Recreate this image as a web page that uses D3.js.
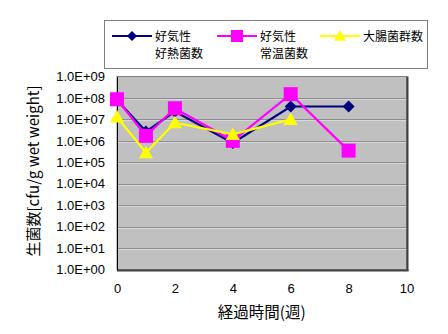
<!DOCTYPE html>
<html><head><meta charset="utf-8">
<script src="https://cdn.jsdelivr.net/npm/d3@7"></script>
<style>body{margin:0;background:#fff;}svg{display:block;}</style>
</head><body>
<script>
const weeks = [0, 1, 2, 4, 6, 8];
const thermophilic = [8e7, 2.7e6, 2.3e7, 8e5, 4e7, 4e7];
const mesophilic = [8.7e7, 1.7e6, 3.3e7, 1e6, 1.5e8, 3.5e5];
const coliform = [1.3e7, 2.8e5, 7e6, 2e6, 1e7, null];
const seriesNames = [["好気性","好熱菌数"], ["好気性","常温菌数"], ["大腸菌群数"]];
const seriesColors = ["#000080", "#ff00ff", "#ffff00"];
const yTicks = [1e0,1e1,1e2,1e3,1e4,1e5,1e6,1e7,1e8,1e9];
const xTicks = [0,2,4,6,8,10];

const W = 448, H = 334;
const svg = d3.select("body").append("svg").attr("width", W).attr("height", H);
const L = 117, R = 406.5, T = 76.5, B = 269.5;
const x = d3.scaleLinear().domain([0, 10]).range([L, R]);
const y = d3.scaleLog().domain([1, 1e9]).range([B, T]);

// plot area
svg.append("rect").attr("x", L).attr("y", T).attr("width", R - L).attr("height", B - T)
  .attr("fill", "#c0c0c0").attr("stroke", "#808080").attr("stroke-width", 1);
// gridlines
svg.append("g").selectAll("line").data(yTicks.slice(1, -1)).join("line")
  .attr("x1", L).attr("x2", R).attr("y1", d => Math.round(y(d)) + 0.5).attr("y2", d => Math.round(y(d)) + 0.5)
  .attr("stroke", "#8c8c8c").attr("stroke-width", 1);
svg.append("g").selectAll("line").data(yTicks.slice(1, -1)).join("line")
  .attr("x1", L).attr("x2", R).attr("y1", d => Math.round(y(d)) + 1.5).attr("y2", d => Math.round(y(d)) + 1.5)
  .attr("stroke", "#d8d8d8").attr("stroke-width", 1);
// shadow right / bottom
svg.append("line").attr("x1", R + 1).attr("x2", R + 1).attr("y1", T).attr("y2", B + 1.5).attr("stroke", "#404040").attr("stroke-width", 2);
svg.append("line").attr("x1", L).attr("x2", R + 2).attr("y1", B + 1).attr("y2", B + 1).attr("stroke", "#404040").attr("stroke-width", 2);

// axes
const yAxis = d3.axisLeft(y).tickValues(yTicks).tickSize(0).tickPadding(12)
  .tickFormat(d => "1.0E+" + String(Math.round(Math.log10(d))).padStart(2, "0"));
const gy = svg.append("g").attr("transform", `translate(${L},0)`).call(yAxis);
gy.select(".domain").attr("stroke", "#000");
gy.selectAll("text").attr("font-family", "Liberation Sans, Arial, sans-serif").attr("font-size", 13).attr("fill", "#000");

const xAxis = d3.axisBottom(x).tickValues(xTicks).tickSize(0).tickPadding(14).tickFormat(d3.format("d"));
const gx = svg.append("g").attr("transform", `translate(0,${B})`).call(xAxis);
gx.select(".domain").remove();
gx.selectAll("text").attr("font-family", "Liberation Sans, Arial, sans-serif").attr("font-size", 13).attr("fill", "#000");

// axis titles
svg.append("text").attr("x", (L + R) / 2).attr("y", 318).attr("text-anchor", "middle")
  .attr("font-family", "Noto Sans CJK JP").attr("font-size", 15.5).text("経過時間(週)");
svg.append("text").attr("transform", `translate(39,${(T + B) / 2 - 2}) rotate(-90)`).attr("text-anchor", "middle")
  .attr("font-family", "Noto Sans CJK JP, Liberation Sans").attr("font-size", 15).text("生菌数[cfu/g wet weight]");

// series
const allSeries = [thermophilic, mesophilic, coliform];
const line = d3.line().defined(d => d[1] != null).x(d => x(d[0])).y(d => y(d[1]));
function marker(g, k, cx, cy, s) {
  if (k === 0) g.append("path").attr("d", `M${cx},${cy - s}L${cx + s},${cy}L${cx},${cy + s}L${cx - s},${cy}Z`).attr("fill", seriesColors[0]);
  else if (k === 1) g.append("rect").attr("x", cx - s).attr("y", cy - s).attr("width", 2 * s).attr("height", 2 * s).attr("fill", seriesColors[1]);
  else g.append("path").attr("d", `M${cx},${cy - s}L${cx + s},${cy + s * 0.8}L${cx - s},${cy + s * 0.8}Z`).attr("fill", seriesColors[2]);
}
const sizes = [6, 7, 7];
allSeries.forEach((vals, k) => {
  const pts = weeks.map((w, i) => [w, vals[i]]);
  const g = svg.append("g");
  g.append("path").datum(pts).attr("d", line).attr("fill", "none").attr("stroke", seriesColors[k]).attr("stroke-width", 2.2);
  pts.filter(p => p[1] != null).forEach(p => marker(g, k, x(p[0]), y(p[1]), sizes[k]));
});

// legend
svg.append("rect").attr("x", 104.5).attr("y", 20.5).attr("width", 323).attr("height", 48).attr("fill", "#fff").attr("stroke", "#808080");
const lx = [112, 217, 320];
seriesNames.forEach((nm, k) => {
  const g = svg.append("g");
  g.append("line").attr("x1", lx[k]).attr("x2", lx[k] + 40).attr("y1", 36).attr("y2", 36).attr("stroke", seriesColors[k]).attr("stroke-width", 2.2);
  marker(g, k, lx[k] + 20, 36, k === 0 ? 5 : 6);
  nm.forEach((t, j) => g.append("text").attr("x", lx[k] + 43).attr("y", 41 + j * 17)
    .attr("font-family", "Noto Sans CJK JP").attr("font-size", 12).text(t));
});
</script>
</body></html>
